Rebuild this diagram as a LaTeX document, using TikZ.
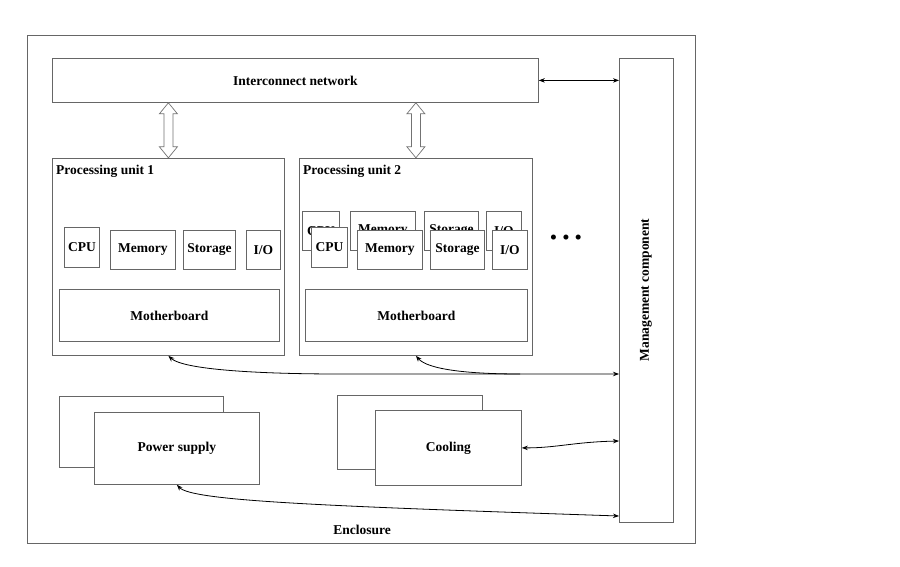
\documentclass[tikz,border=0pt]{standalone}
\usepackage{fontspec}
\setmainfont{Liberation Serif}
\usetikzlibrary{arrows.meta}
\begin{document}
\begin{tikzpicture}[x=1pt,y=-1pt,
  box/.style={draw=black!60, line width=0.8pt, fill=white, inner sep=0pt, anchor=north west,
    font=\bfseries\fontsize{13.5}{15}\selectfont},
  lbl/.style={inner sep=0pt, font=\bfseries\fontsize{13.5}{15}\selectfont},
  conn/.style={draw=black, line width=0.8pt, >={Stealth[length=6pt,width=4.5pt]}},
  hollow/.style={draw=black!55, line width=0.7pt, fill=white, line join=miter}]
\useasboundingbox (0,0) rectangle (900,567);
% enclosure
\node[box, minimum width=668pt, minimum height=508pt] (enc) at (27,35) {};
\node[lbl] (enclbl) at (362,530) {Enclosure};
% interconnect and management
\node[box, minimum width=486pt, minimum height=44pt] (ic) at (52,58) {Interconnect network};
\node[box, minimum width=54pt, minimum height=464pt] (mg) at (619,58) {};
\node[lbl, rotate=90] (mglbl) at (646,290) {Management component};
% processing unit 1
\node[box, minimum width=232pt, minimum height=197pt] (pu1) at (52,158) {};
\node[lbl, anchor=west] (pu1lbl) at (56,171) {Processing unit 1};
\node[box, minimum width=35pt, minimum height=40pt] (cpu1) at (64,227) {CPU};
\node[box, minimum width=65pt, minimum height=39pt] (mem1) at (110,230) {Memory};
\node[box, minimum width=52pt, minimum height=39pt] (sto1) at (183,230) {Storage};
\node[box, minimum width=34pt, minimum height=39pt] (io1) at (246,230) {I/O};
\node[box, minimum width=220pt, minimum height=52pt] (mb1) at (59,289) {Motherboard};
% processing unit 2
\node[box, minimum width=233pt, minimum height=197pt] (pu2) at (299,158) {};
\node[lbl, anchor=west] (pu2lbl) at (303,171) {Processing unit 2};
\node[box, minimum width=37pt, minimum height=39pt] (cpu2b) at (302,211) {CPU};
\node[box, minimum width=65pt, minimum height=39pt] (mem2b) at (350,211) {Memory};
\node[box, minimum width=54pt, minimum height=39pt] (sto2b) at (424,211) {Storage};
\node[box, minimum width=35pt, minimum height=39pt] (io2b) at (486,211) {I/O};
\node[box, minimum width=36pt, minimum height=40pt] (cpu2) at (311,227) {CPU};
\node[box, minimum width=65pt, minimum height=39pt] (mem2) at (357,230) {Memory};
\node[box, minimum width=54pt, minimum height=39pt] (sto2) at (430,230) {Storage};
\node[box, minimum width=35pt, minimum height=39pt] (io2) at (492,230) {I/O};
\node[box, minimum width=222pt, minimum height=52pt] (mb2) at (305,289) {Motherboard};
\node[lbl, font=\fontsize{21}{21}\selectfont] (dots) at (566,240) {•\hspace{5pt}•\hspace{5pt}•};
% power supply and cooling
\node[box, minimum width=164pt, minimum height=71pt] (psb) at (59,396) {};
\node[box, minimum width=165pt, minimum height=72pt] (ps) at (94,412) {Power supply};
\node[box, minimum width=145pt, minimum height=74pt] (cob) at (337,395) {};
\node[box, minimum width=146pt, minimum height=75pt] (co) at (375,410) {Cooling};
% hollow double arrows
\coordinate (a1) at (ic.south -| pu1.north);
\coordinate (a2) at (ic.south -| pu2.north);
\foreach \a in {a1,a2}{
  \draw[hollow] (\a) -- ++(9,11) -- ++(-4.5,0) -- ++(0,33) -- ++(4.5,0) -- ++(-9,11)
    -- ++(-9,-11) -- ++(4.5,0) -- ++(0,-33) -- ++(-4.5,0) -- cycle;
}
% connectors
\coordinate (m1) at (619,374);
\coordinate (j2) at (520,374);
\coordinate (m2) at (619,441);
\coordinate (m3) at (619,516);
\draw[conn, <->] (ic.east) -- (ic.east -| mg.west);
\draw[conn, <->] (pu1.south) .. controls +(15,14) and +(-80,0) .. (340,374) -- (m1);
\draw[conn, <-] (pu2.south) .. controls +(12,14) and +(-50,0) .. (j2);
\draw[conn, <->] (co.east) .. controls +(35,0) and +(-45,1) .. (m2);
\draw[conn, <->] (ps.south) .. controls +(15,16) and +(-300,-10) .. (m3);
\end{tikzpicture}
\end{document}
